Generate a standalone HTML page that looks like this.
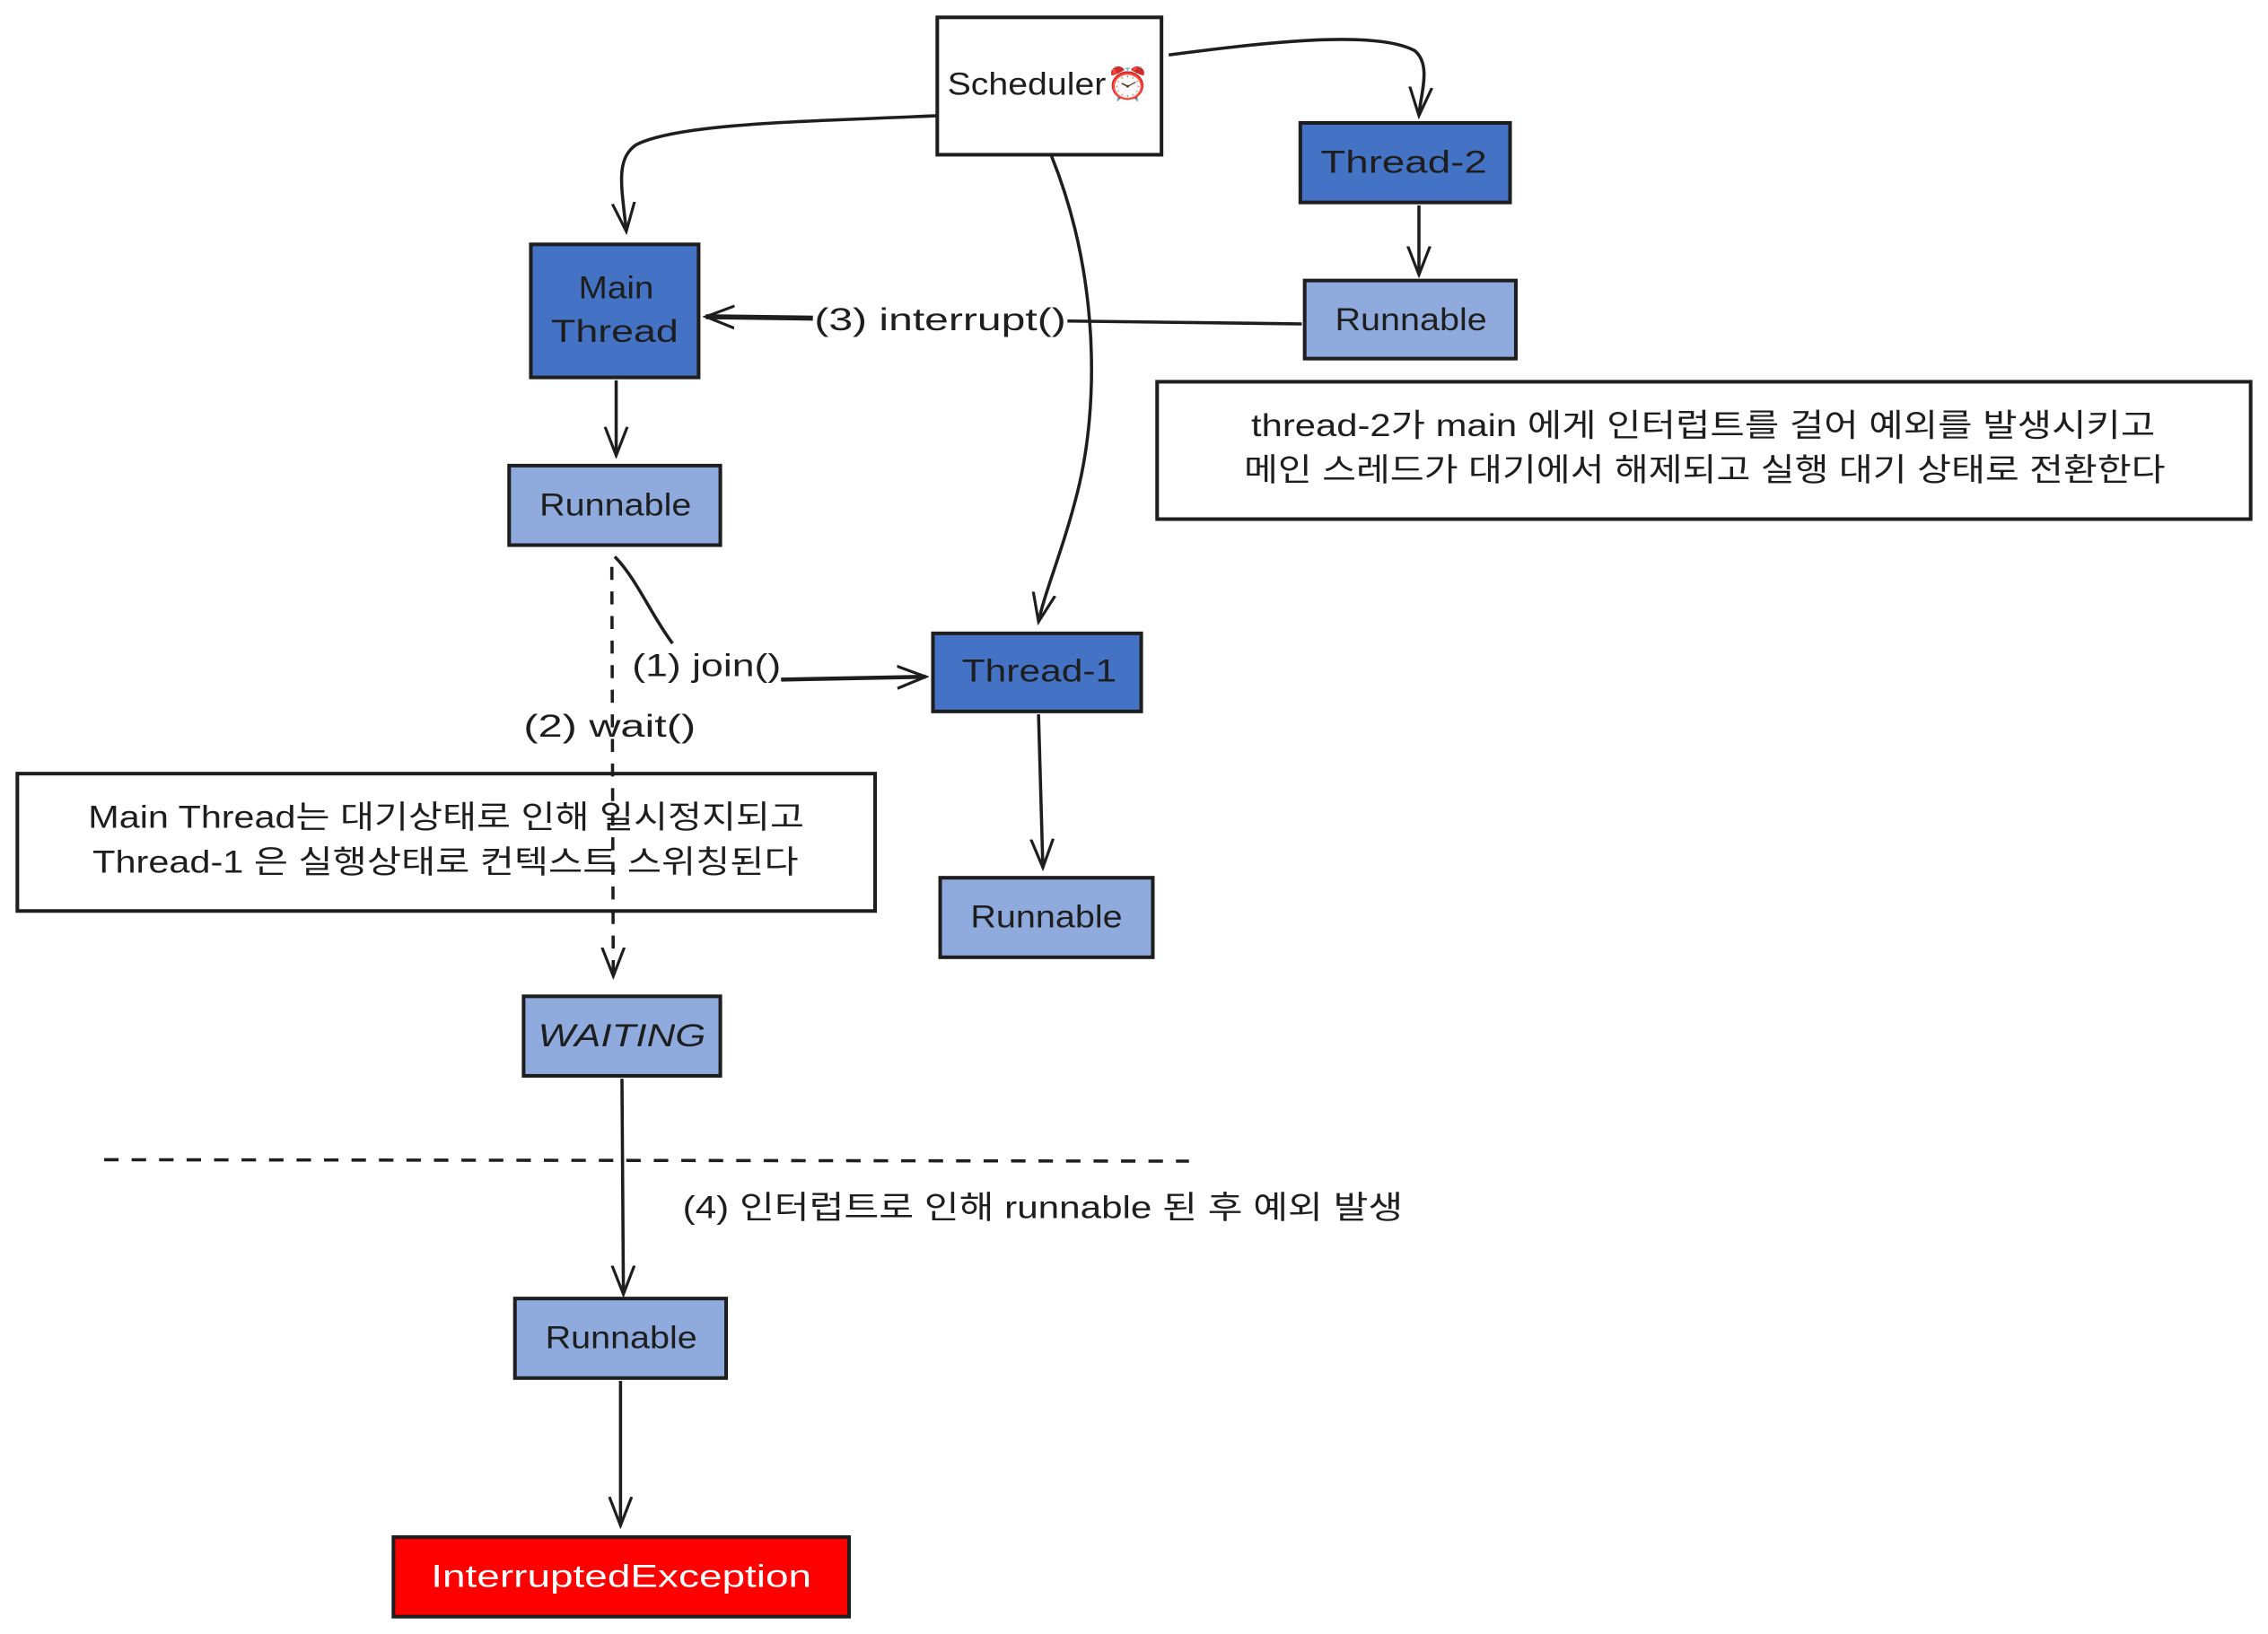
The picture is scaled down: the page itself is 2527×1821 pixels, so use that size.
<!DOCTYPE html>
<html><head><meta charset="utf-8"><style>
html,body{margin:0;padding:0;background:#fff;}
svg{display:block}
text{font-family:"Liberation Sans","Noto Sans CJK KR",sans-serif;fill:#1e1e1e;}
</style></head><body>
<svg width="2527" height="1821" viewBox="0 0 1568 1130" preserveAspectRatio="none" xmlns="http://www.w3.org/2000/svg">
<defs>
<marker id="a" viewBox="0 0 20 20" refX="18" refY="10" markerWidth="22" markerHeight="22" orient="auto" markerUnits="userSpaceOnUse">
<path d="M0,3 L18,10 L0,17" fill="none" stroke="#1e1e1e" stroke-width="1.8"/>
</marker>
</defs>
<g stroke="#1e1e1e" stroke-width="2.2" fill="none">
<path d="M648,80 C560,84 470,85 440,100 C425,110 430,130 433,160" marker-end="url(#a)"/>
<path d="M808,38 C870,30 950,20 978,35 C990,45 982,65 981,80" marker-end="url(#a)"/>
<path d="M727,108 C760,190 760,280 745,340 C735,380 722,410 718,430" marker-end="url(#a)"/>
<path d="M981,142 L981,190" marker-end="url(#a)"/>
<path d="M900,224 L738,222"/>
<path d="M562,220 L488,219" stroke-width="3.5" marker-end="url(#a)"/>
<path d="M426,263 L426,315" marker-end="url(#a)"/>
<path d="M465,445 C450,425 440,400 425,385"/>
<path d="M540,470 L640,468" stroke-width="2.8" marker-end="url(#a)"/>
<path d="M423,392 L424,675" stroke-dasharray="9,8" marker-end="url(#a)"/>
<path d="M718,494 L721,600" marker-end="url(#a)"/>
<path d="M430,746 L431,895" marker-end="url(#a)"/>
<path d="M429,955 L429,1055" marker-end="url(#a)"/>
<path d="M72,802 L822,803" stroke-dasharray="10,9"/>
</g>
<g stroke="#1e1e1e" stroke-width="2.5">
<rect x="648" y="12" width="155" height="95" fill="#fff"/>
<rect x="899" y="85" width="145" height="55" fill="#4472c4"/>
<rect x="902" y="194" width="146" height="54" fill="#8faadc"/>
<rect x="367" y="169" width="116" height="92" fill="#4472c4"/>
<rect x="352" y="322" width="146" height="55" fill="#8faadc"/>
<rect x="645" y="438" width="144" height="54" fill="#4472c4"/>
<rect x="650" y="607" width="147" height="55" fill="#8faadc"/>
<rect x="800" y="264" width="756" height="95" fill="#fff"/>
<rect x="12" y="535" width="593" height="95" fill="none"/>
<rect x="362" y="689" width="136" height="55" fill="#8faadc"/>
<rect x="356" y="898" width="146" height="55" fill="#8faadc"/>
<rect x="272" y="1063" width="315" height="55" fill="#ff0000"/>
</g>
<g font-size="22" dominant-baseline="central" lengthAdjust="spacingAndGlyphs">
<text x="655" y="58" textLength="140" lengthAdjust="spacingAndGlyphs">Scheduler⏰</text>
<text x="913" y="112" textLength="115" lengthAdjust="spacingAndGlyphs">Thread-2</text>
<text x="923" y="221" textLength="105" lengthAdjust="spacingAndGlyphs">Runnable</text>
<text x="400" y="199" textLength="52" lengthAdjust="spacingAndGlyphs">Main</text>
<text x="381" y="229" textLength="88" lengthAdjust="spacingAndGlyphs">Thread</text>
<text x="373" y="349" textLength="105" lengthAdjust="spacingAndGlyphs">Runnable</text>
<text x="665" y="464" textLength="107" lengthAdjust="spacingAndGlyphs">Thread-1</text>
<text x="671" y="634" textLength="105" lengthAdjust="spacingAndGlyphs">Runnable</text>
<text x="372" y="716" font-style="italic" textLength="116" lengthAdjust="spacingAndGlyphs">WAITING</text>
<text x="377" y="925" textLength="105" lengthAdjust="spacingAndGlyphs">Runnable</text>
<text x="298" y="1090" style="fill:#fff" textLength="263" lengthAdjust="spacingAndGlyphs">InterruptedException</text>
<text x="563" y="221" textLength="174" lengthAdjust="spacingAndGlyphs">(3) interrupt()</text>
<text x="437" y="460" textLength="103" lengthAdjust="spacingAndGlyphs">(1) join()</text>
<text x="362" y="502" textLength="119" lengthAdjust="spacingAndGlyphs">(2) wait()</text>
<text x="865" y="294" textLength="625" lengthAdjust="spacingAndGlyphs">thread-2가 main 에게 인터럽트를 걸어 예외를 발생시키고</text>
<text x="860" y="325" textLength="637" lengthAdjust="spacingAndGlyphs">메인 스레드가 대기에서 해제되고 실행 대기 상태로 전환한다</text>
<text x="61" y="565" textLength="495" lengthAdjust="spacingAndGlyphs">Main Thread는 대기상태로 인해 일시정지되고</text>
<text x="64" y="596" textLength="488" lengthAdjust="spacingAndGlyphs">Thread-1 은 실행상태로 컨텍스트 스위칭된다</text>
<text x="472" y="835" textLength="498" lengthAdjust="spacingAndGlyphs">(4) 인터럽트로 인해 runnable 된 후 예외 발생</text>
</g>
</svg>
</body></html>
